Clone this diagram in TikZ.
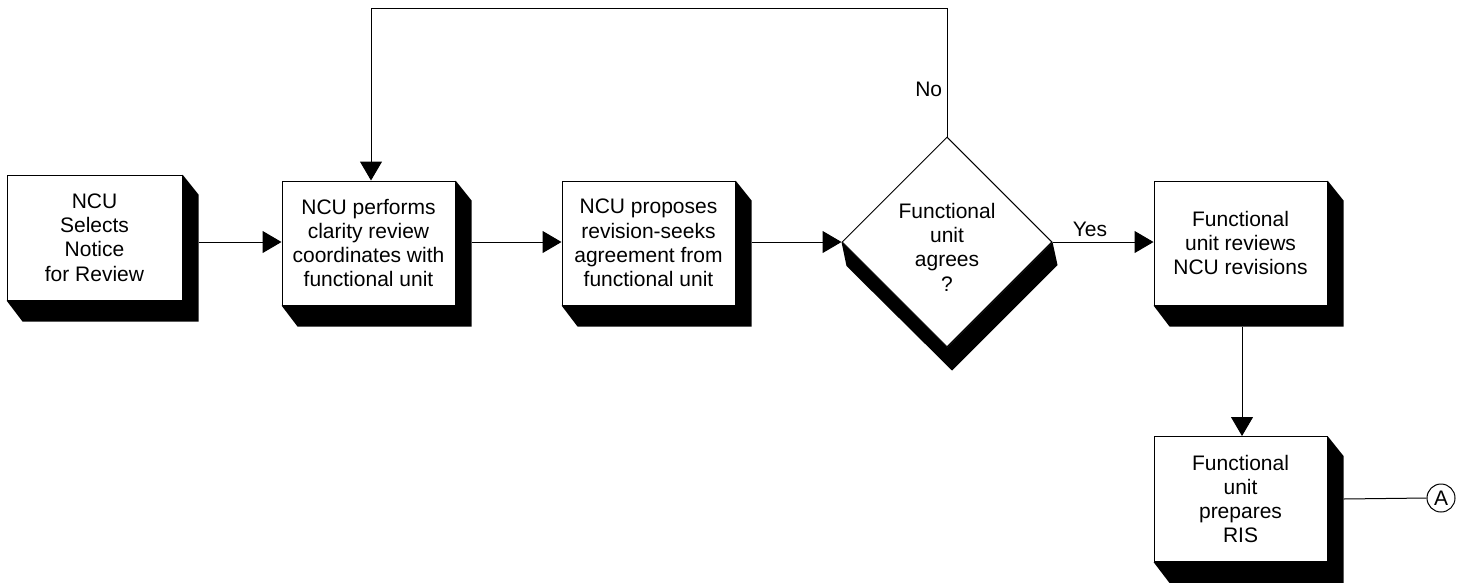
\documentclass[tikz,border=0pt]{standalone}
\usepackage{fontspec}
\setmainfont{Liberation Sans}
\usetikzlibrary{arrows.meta,shapes.geometric,calc}
\begin{document}
\begin{tikzpicture}[x=1pt,y=-1pt,
  every node/.style={font=\fontsize{21}{24.3}\selectfont},
  box/.style={draw,line width=1pt,fill=white,inner sep=0pt,align=center,minimum width=173pt,minimum height=124pt},
  dec/.style={draw,line width=1pt,fill=white,diamond,aspect=1,inner sep=0pt,minimum width=210pt,minimum height=210pt},
  shade/.style={fill=black},
  link/.style={line width=1pt},
  arr/.style={line width=1pt,-{Triangle[length=19pt,width=22pt]}},
  conn/.style={draw,circle,line width=1pt,inner sep=0pt,minimum size=28pt}]
\useasboundingbox (0,0) rectangle (1466,582);
% nodes
\node[box,minimum width=175pt,minimum height=125pt] (b1) at (94.5,237.5) {NCU\\Selects\\Notice\\for Review};
\node[box] (b2) at (368.5,243) {NCU performs\\clarity review\\coordinates with\\functional unit};
\node[box] (b3) at (648.5,243) {NCU proposes\\revision-seeks\\agreement from\\functional unit};
\node[dec,label={[align=center,yshift=-5pt]center:Functional\\unit\\agrees\\?}] (d) at (947,242) {};
\node[box] (b4) at (1240.5,243) {Functional\\unit reviews\\NCU revisions};
\node[box,minimum height=125pt] (b5) at (1240.5,499) {Functional\\unit\\prepares\\RIS};
\node[conn] (A) at (1441,498) {A};
% shadows
\foreach \b in {b1,b2,b3,b4,b5}{
  \fill[shade] (\b.north east) -- ++(16,20) -- ($(\b.south east)+(16,21)$) -- ($(\b.south west)+(16,21)$) -- (\b.south west) -- (\b.south east) -- cycle;
}
\fill[shade] (d.west) -- ++(5,24) -- ($(d.south)+(5,23)$) -- ($(d.east)+(5,23)$) -- (d.east) -- (d.south) -- cycle;
% shadow edge coordinates
\coordinate (s1) at ($(b1.east)+(16,0)$);
\coordinate (s2) at ($(b2.east)+(16,0)$);
\coordinate (s3) at ($(b3.east)+(16,0)$);
\coordinate (s4) at ($(b4.south)+(1.5,21)$);
\coordinate (s5) at ($(b5.east)+(16,0)$);
\coordinate (top) at (0,8);
% connectors
\draw[arr] (s1 |- 0,242) -- (b2.west |- 0,242);
\draw[arr] (s2 |- 0,242) -- (b3.west |- 0,242);
\draw[arr] (s3 |- 0,242) -- (d.west);
\draw[arr] (d.east) -- node[pos=0.37,above=1pt] {Yes} (b4.west |- d.east);
\draw[link] (d.north) -- node[pos=0.37,left=1pt] {No} (d.north |- top) -- ($(b2.north |- top)+(2.5,0)$) coordinate (lp);
\draw[arr] (lp) -- ($(b2.north)+(2.5,0)$);
\draw[arr] (s4) -- (s4 |- b5.north);
\draw[link] (s5) -- (A.west);
\end{tikzpicture}
\end{document}
